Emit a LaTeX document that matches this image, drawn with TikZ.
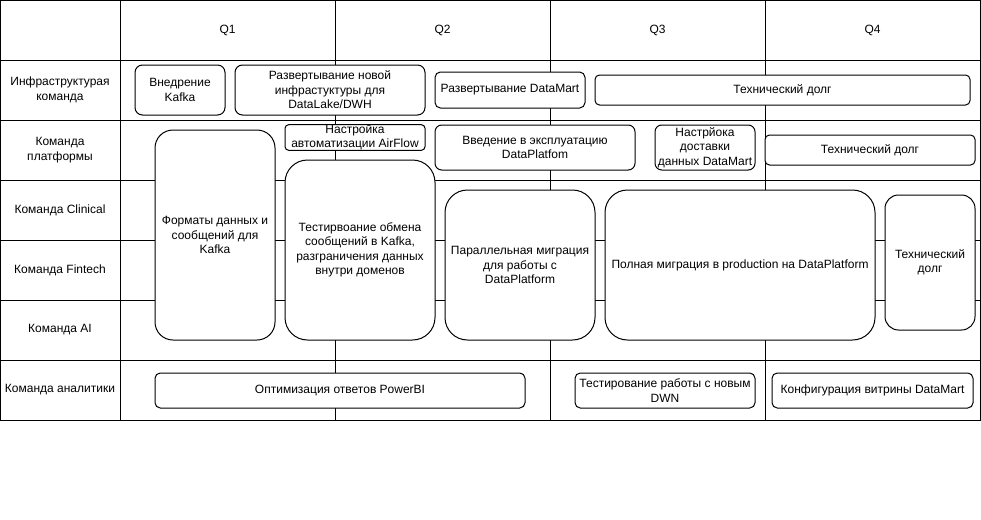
\documentclass[tikz,border=0pt]{standalone}
\usepackage{fontspec}
\setmainfont{Liberation Sans}
\begin{document}
\begin{tikzpicture}[x=1pt,y=-1pt,
  gridline/.style={draw=black,line width=1pt},
  lbl/.style={inner sep=0pt,align=center,font=\fontsize{12}{14.4}\selectfont},
  task/.style={draw=black,fill=white,line width=1pt,inner sep=0pt,align=center,font=\fontsize{12}{14.4}\selectfont}]
\useasboundingbox (0,0) rectangle (981,519);
% grid
\draw[gridline] (0.5,0.5) rectangle (980,420);
\foreach \yy in {60,120,180,240,300,360}{\draw[gridline] (0.5,\yy) -- (980,\yy);}
\foreach \xx in {120,335,550,765}{\draw[gridline] (\xx,0.5) -- (\xx,420);}
% header
\node[lbl] (q1) at (227.5,30) {Q1};
\node[lbl] (q2) at (442.5,30) {Q2};
\node[lbl] (q3) at (657.5,30) {Q3};
\node[lbl] (q4) at (872.5,30) {Q4};
% row labels
\node[lbl] (r1) at (60,90) {Инфраструктурая\\команда};
\node[lbl] (r2) at (60,150) {Команда\\платформы};
\node[lbl] (r3) at (60,210) {Команда Clinical};
\node[lbl] (r4) at (60,270) {Команда Fintech};
\node[lbl] (r5) at (60,330) {Команда AI};
\node[lbl] (r6) at (60,390) {Команда аналитики};
% tasks: center, width, height
\node[task,minimum width=90pt,minimum height=50pt,rounded corners=7.5pt] (t1) at (180,90) {Внедрение\\Kafka};
\node[task,minimum width=190pt,minimum height=50pt,rounded corners=7.5pt] (t2) at (330,90) {Развертывание новой\\инфрастуктуры для\\DataLake/DWH};
\node[task,minimum width=150pt,minimum height=36pt,rounded corners=5.4pt] (t3) at (510,90) {Развертывание DataMart};
\node[task,minimum width=375pt,minimum height=30pt,rounded corners=4.5pt] (t4) at (782.5,90) {Технический долг};
\node[task,minimum width=140pt,minimum height=25pt,rounded corners=3.75pt] (t5) at (355,137.5) {Настройка\\автоматизации AirFlow};
\node[task,minimum width=200pt,minimum height=45pt,rounded corners=6.75pt] (t6) at (535,147.5) {Введение в эксплуатацию\\DataPlatfom};
\node[task,minimum width=100pt,minimum height=45pt,rounded corners=6.75pt] (t7) at (705,147.5) {Настрйока\\доставки\\данных DataMart};
\node[task,minimum width=210pt,minimum height=30pt,rounded corners=4.5pt] (t8) at (870,150) {Технический долг};
\node[task,minimum width=120pt,minimum height=210pt,rounded corners=18pt] (t9) at (215,235) {Форматы данных и\\сообщений для\\Kafka};
\node[task,minimum width=150pt,minimum height=180pt,rounded corners=22.5pt] (t10) at (360,250) {Тестирвоание обмена\\сообщений в Kafka,\\разграничения данных\\внутри доменов};
\node[task,minimum width=150pt,minimum height=150pt,rounded corners=22.5pt] (t11) at (520,265) {Параллельная миграция\\для работы с\\DataPlatform};
\node[task,minimum width=270pt,minimum height=150pt,rounded corners=22.5pt] (t12) at (740,265) {Полная миграция в production на DataPlatform};
\node[task,minimum width=90pt,minimum height=135pt,rounded corners=13.5pt] (t13) at (930,262.5) {Технический\\долг};
\node[task,minimum width=370pt,minimum height=35pt,rounded corners=5.25pt] (t14) at (340,390.5) {Оптимизация ответов PowerBI};
\node[task,minimum width=180pt,minimum height=35pt,rounded corners=5.25pt] (t15) at (665,390.5) {Тестирование работы с новым\\DWN};
\node[task,minimum width=201pt,minimum height=35pt,rounded corners=5.25pt] (t16) at (872.5,390.5) {Конфигурация витрины DataMart};
\end{tikzpicture}
\end{document}
